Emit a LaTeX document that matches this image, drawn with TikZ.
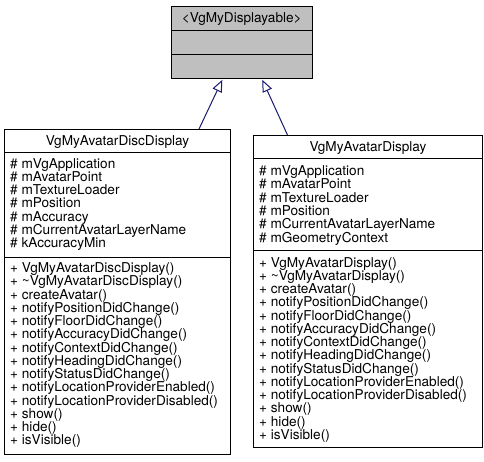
\documentclass[tikz,border=0pt]{standalone}
\usepackage{fontspec}
\setmainfont{TeX Gyre Heros}
\usetikzlibrary{arrows.meta,calc}
\definecolor{edgeblue}{HTML}{191970}
\definecolor{basegray}{HTML}{BFBFBF}
\tikzset{
  classbox/.style={draw=black, line width=1pt, anchor=north west, inner sep=0pt},
  txt/.style={anchor=base west, inner sep=0pt, font=\fontsize{13.6}{13.3}\selectfont},
  ttl/.style={anchor=base, inner sep=0pt, font=\fontsize{13.6}{13.3}\selectfont},
  inh/.style={draw=edgeblue, line width=1pt, -{Triangle[length=12pt,width=10pt,fill=white]}},
  sep/.style={draw=black, line width=1pt}
}
\begin{document}
\begin{tikzpicture}[x=1pt,y=-1pt]
\useasboundingbox (0,0) rectangle (484,461);
% base class
\node[classbox, fill=basegray, minimum width=140.5pt, minimum height=72.5pt] (base) at (171,5.8) {};
\draw[sep] ($(base.north west)+(0,24.2)$) -- ($(base.north east)+(0,24.2)$);
\draw[sep] ($(base.north west)+(0,48.2)$) -- ($(base.north east)+(0,48.2)$);
\node[ttl] (basettl) at ($(base.north)+(0,16.5)$) {<VgMyDisplayable>};
% left class
\node[classbox, fill=white, minimum width=226pt, minimum height=324.5pt] (disc) at (4,129) {};
\draw[sep] ($(disc.north west)+(0,23)$) -- ($(disc.north east)+(0,23)$);
\draw[sep] ($(disc.north west)+(0,128)$) -- ($(disc.north east)+(0,128)$);
\node[ttl] (discttl) at ($(disc.north)+(0,16.5)$) {VgMyAvatarDiscDisplay};
\foreach \t [count=\i from 0] in {mVgApplication,mAvatarPoint,mTextureLoader,mPosition,mAccuracy,mCurrentAvatarLayerName,kAccuracyMin}
  \node[txt] (discA\i) at ($(disc.north west)+(6,39+13.3*\i)$) {\# \t};
\foreach \t [count=\i from 0] in {VgMyAvatarDiscDisplay(),\char"007EVgMyAvatarDiscDisplay(),createAvatar(),notifyPositionDidChange(),notifyFloorDidChange(),notifyAccuracyDidChange(),notifyContextDidChange(),notifyHeadingDidChange(),notifyStatusDidChange(),notifyLocationProviderEnabled(),notifyLocationProviderDisabled(),show(),hide(),isVisible()}
  \node[txt] (discM\i) at ($(disc.north west)+(6,143.5+13.25*\i)$) {+ \t};
% right class
\node[classbox, fill=white, minimum width=229pt, minimum height=312pt] (disp) at (253,135) {};
\draw[sep] ($(disp.north west)+(0,23)$) -- ($(disp.north east)+(0,23)$);
\draw[sep] ($(disp.north west)+(0,115)$) -- ($(disp.north east)+(0,115)$);
\node[ttl] (dispttl) at ($(disp.north)+(0,16.5)$) {VgMyAvatarDisplay};
\foreach \t [count=\i from 0] in {mVgApplication,mAvatarPoint,mTextureLoader,mPosition,mCurrentAvatarLayerName,mGeometryContext}
  \node[txt] (dispA\i) at ($(disp.north west)+(6,40.5+13.3*\i)$) {\# \t};
\foreach \t [count=\i from 0] in {VgMyAvatarDisplay(),\char"007EVgMyAvatarDisplay(),createAvatar(),notifyPositionDidChange(),notifyFloorDidChange(),notifyAccuracyDidChange(),notifyContextDidChange(),notifyHeadingDidChange(),notifyStatusDidChange(),notifyLocationProviderEnabled(),notifyLocationProviderDisabled(),show(),hide(),isVisible()}
  \node[txt] (dispM\i) at ($(disp.north west)+(6,132+13.25*\i)$) {+ \t};
% inheritance
\draw[inh] ($(disc.north west)+(195,0)$) -- ($(base.south west)+(51.3,0.5)$);
\draw[inh] ($(disp.north west)+(34.5,0)$) -- ($(base.south west)+(91.3,0.5)$);
\end{tikzpicture}
\end{document}
